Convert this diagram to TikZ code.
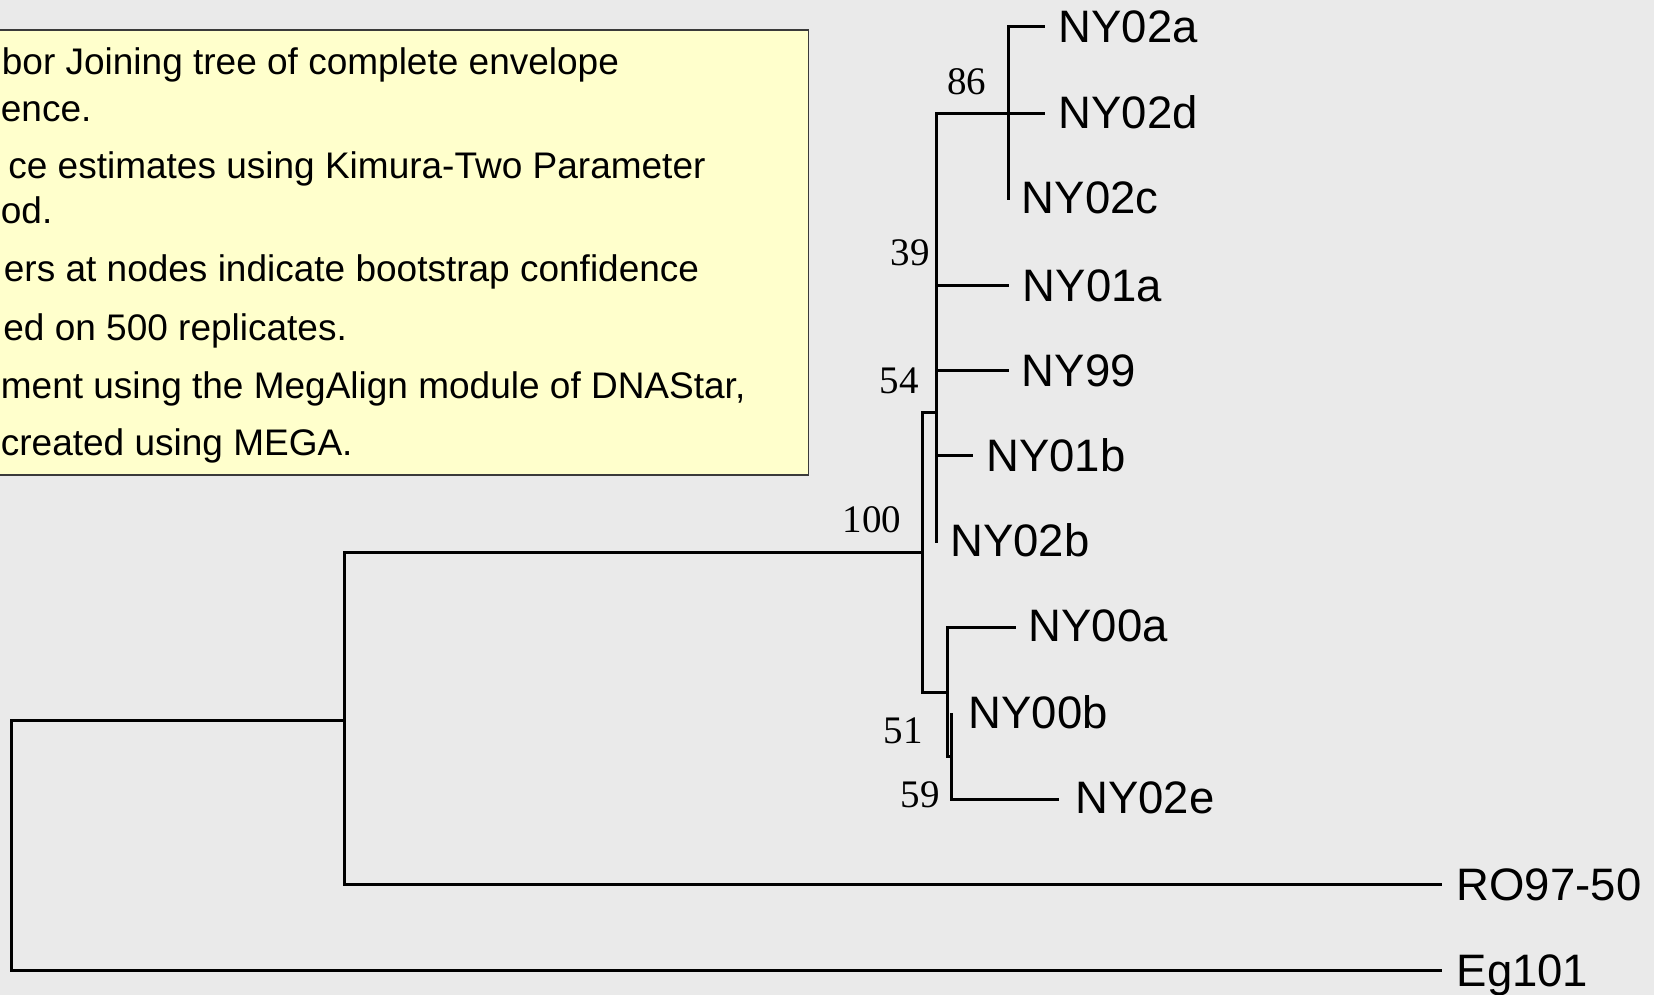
\documentclass[tikz,border=0pt]{standalone}
\usepackage{fontspec}
\setmainfont{Liberation Sans}
\newfontfamily\bootfont{Liberation Serif}
\definecolor{bg}{HTML}{EAEAEA}
\definecolor{boxfill}{HTML}{FFFFCC}
\definecolor{boxedge}{HTML}{3A3A3A}
\begin{document}
\begin{tikzpicture}[x=0.5pt,y=-0.5pt,
  branch/.style={line width=1.5pt, black, line join=miter},
  leaf/.style={anchor=base west, inner sep=0pt, font=\fontsize{22.75pt}{26pt}\selectfont},
  boot/.style={anchor=base east, inner sep=0pt, font=\bootfont\fontsize{19.5pt}{22pt}\selectfont},
  note/.style={anchor=base west, inner sep=0pt, font=\fontsize{18.5pt}{22pt}\selectfont}]
\useasboundingbox[fill=bg] (0,0) rectangle (1654,995);
% legend box
\draw[fill=boxfill, draw=boxedge, line width=0.75pt] (-10,30) rectangle (808.3,475);
\node[note] (t1) at (1.5,75)   {bor Joining tree of complete envelope};
\node[note] (t2) at (0.5,121.7) {ence.};
\node[note] (t3) at (8,178.3)  {ce estimates using Kimura-Two Parameter};
\node[note] (t4) at (0.5,223.3) {od.};
\node[note] (t5) at (3.5,281.7){ers at nodes indicate bootstrap confidence};
\node[note] (t6) at (3,340)  {ed on 500 replicates.};
\node[note] (t7) at (0.5,398.3){ment using the MegAlign module of DNAStar,};
\node[note] (t8) at (0.5,455)  {created using MEGA.};
% internal nodes
\coordinate (root) at (11.7,846);
\coordinate (nA)   at (344.3,720.7);
\coordinate (n100) at (922.7,552.7);
\coordinate (n54)  at (936.7,412.7);
\coordinate (n39)  at (936.7,199);
\coordinate (n86)  at (1008.3,113.3);
\coordinate (n51)  at (947.7,692.3);
\coordinate (n59)  at (951,756);
% tips
\coordinate (pNY02a) at (1045,26.7);
\coordinate (pNY02d) at (1045,113.3);
\coordinate (pNY02c) at (1008.3,200);
\coordinate (pNY01a) at (1009.3,285);
\coordinate (pNY99)  at (1009.3,370);
\coordinate (pNY01b) at (973.3,455.7);
\coordinate (pNY02b) at (936.7,542.7);
\coordinate (pNY00a) at (1016,627.3);
\coordinate (pNY00b) at (951,713);
\coordinate (pNY02e) at (1059.3,799);
\coordinate (pRO)    at (1441.7,884);
\coordinate (pEg)    at (1441.7,970.7);
% branches
\draw[branch] (root) |- (nA);
\draw[branch] (root) |- (pEg);
\draw[branch] (nA) |- (n100);
\draw[branch] (nA) |- (pRO);
\draw[branch] (n100) |- (n54);
\draw[branch] (n100) |- (n51);
\draw[branch] (n54) |- (n39);
\draw[branch] (n54) |- (pNY99);
\draw[branch] (n54) |- (pNY01b);
\draw[branch] (n54) |- (pNY02b);
\draw[branch] (n39) |- (n86);
\draw[branch] (n39) |- (pNY01a);
\draw[branch] (n86) |- (pNY02a);
\draw[branch] (n86) |- (pNY02d);
\draw[branch] (n86) |- (pNY02c);
\draw[branch] (n51) |- (pNY00a);
\draw[branch] (n51) |- (n59);
\draw[branch] (n59) |- (pNY00b);
\draw[branch] (n59) |- (pNY02e);
% leaf labels
\node[leaf] (NY02a) at (1058.2,42.7)  {NY02a};
\node[leaf] (NY02d) at (1058.2,128.3) {NY02d};
\node[leaf] (NY02c) at (1021.5,213.3) {NY02c};
\node[leaf] (NY01a) at (1022.5,301)   {NY01a};
\node[leaf] (NY99)  at (1021.5,386)   {NY99};
\node[leaf] (NY01b) at (985.8,471.7)  {NY01b};
\node[leaf] (NY02b) at (949.8,556.7)  {NY02b};
\node[leaf] (NY00a) at (1028.2,641.7) {NY00a};
\node[leaf] (NY00b) at (968.2,728.3)  {NY00b};
\node[leaf] (NY02e) at (1074.8,813.3) {NY02e};
\node[leaf] (RO)    at (1456.3,900)   {RO97-50};
\node[leaf] (Eg)    at (1456.3,986.7) {Eg101};
% bootstrap values
\node[boot] (b86)  at (986.7,94.3)  {86};
\node[boot] (b39)  at (930,265)     {39};
\node[boot] (b54)  at (919.3,393.3) {54};
\node[boot] (b100) at (901.7,532.7) {100};
\node[boot] (b51)  at (923.3,743.3) {51};
\node[boot] (b59)  at (940,807.3)   {59};
\end{tikzpicture}
\end{document}
